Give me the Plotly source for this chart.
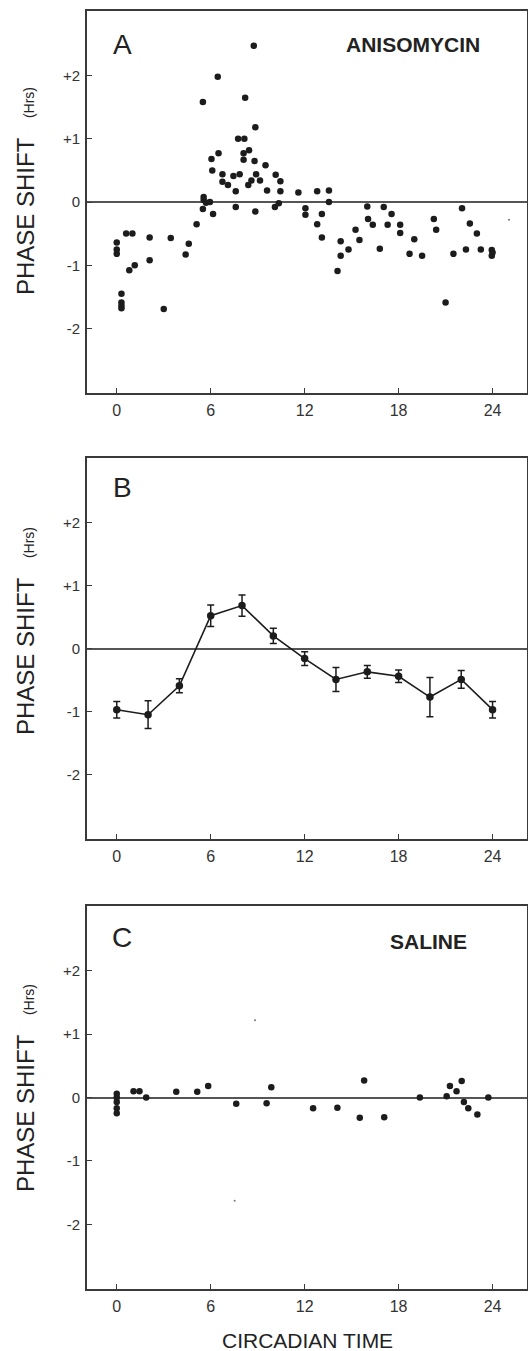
import plotly.graph_objects as go

# ---------------- data ----------------
# Panel A: anisomycin, individual phase shifts
A_time = [0.0, 0.0, 0.0, 0.3, 0.3, 0.3, 0.3, 0.6, 1.0, 0.8, 1.15, 2.1, 2.1, 3.0, 3.45, 4.4, 4.6, 5.1,
          5.5, 5.55, 5.55, 5.7, 5.5, 5.95, 6.15,
          6.05, 6.1, 6.5, 6.45,
          6.75, 6.75, 7.1, 7.45, 7.85, 7.6, 7.6,
          7.75, 8.15, 8.1, 8.45, 8.1, 8.2,
          8.75, 8.85, 8.8, 9.5,
          8.4, 8.6, 8.9, 9.15,
          8.85,
          9.6, 10.15, 10.45, 10.45,
          10.1, 10.35,
          11.6,
          12.05, 12.05,
          12.8, 12.8, 13.1, 13.1,
          13.55, 13.55,
          14.1, 14.3, 14.3, 14.8,
          15.25, 15.5,
          16.0, 16.05, 16.35, 16.8,
          17.05, 17.3, 17.55,
          18.1, 18.1, 18.7, 19.0, 19.5,
          20.25, 20.4, 21.0, 21.5,
          22.05, 22.3, 22.55, 23.0, 23.25,
          23.95, 24.0, 23.95]
A_shift = [-0.64, -0.75, -0.82, -1.45, -1.59, -1.64, -1.68, -0.5, -0.5, -1.08, -1.0, -0.56, -0.92, -1.69, -0.57, -0.83, -0.66, -0.35,
           1.58, 0.08, 0.03, -0.01, -0.11, 0.0, -0.19,
           0.68, 0.5, 0.77, 1.98,
           0.44, 0.32, 0.27, 0.41, 0.44, 0.17, -0.08,
           1.0, 1.0, 0.77, 0.82, 0.67, 1.65,
           2.47, 1.18, 0.65, 0.58,
           0.27, 0.34, 0.44, 0.34,
           -0.15,
           0.18, 0.43, 0.33, 0.17,
           -0.08, -0.02,
           0.15,
           -0.1, -0.2,
           0.17, -0.35, -0.19, -0.56,
           0.18, 0.0,
           -1.09, -0.62, -0.85, -0.75,
           -0.44, -0.6,
           -0.07, -0.27, -0.36, -0.74,
           -0.08, -0.36, -0.19,
           -0.36, -0.49, -0.82, -0.59, -0.85,
           -0.27, -0.44, -1.59, -0.82,
           -0.1, -0.75, -0.34, -0.5, -0.75,
           -0.76, -0.8, -0.85]
A_speck_time = [25.05]
A_speck_shift = [-0.28]

# Panel B: mean +/- SEM
B_time = [0, 2, 4, 6, 8, 10, 12, 14, 16, 18, 20, 22, 24]
B_mean = [-0.97, -1.05, -0.59, 0.52, 0.68, 0.2, -0.16, -0.49, -0.37, -0.44, -0.77, -0.49, -0.97]
B_sem = [0.13, 0.22, 0.11, 0.17, 0.17, 0.12, 0.11, 0.19, 0.1, 0.1, 0.31, 0.14, 0.13]

# Panel C: saline
C_time = [0, 0, 0, 0, 0, 1.07, 1.45, 1.88, 3.8, 5.14, 5.84, 7.63, 9.57, 9.87, 12.54, 14.09,
          15.52, 15.8, 17.08, 19.36, 21.07, 21.28, 21.7, 22.03, 22.17, 22.45, 23.03, 23.73]
C_shift = [0.06, 0.0, -0.07, -0.17, -0.25, 0.1, 0.1, 0.0, 0.09, 0.09, 0.18, -0.1, -0.09, 0.16, -0.17, -0.16,
           -0.32, 0.27, -0.31, 0.0, 0.02, 0.18, 0.1, 0.26, -0.07, -0.17, -0.27, 0.0]
C_speck_time = [8.83, 7.53]
C_speck_shift = [1.22, -1.63]

x_ticks = [0, 6, 12, 18, 24]
x_ticktext = ["0", "6", "12", "18", "24"]
y_ticks = [2, 1, 0, -1, -2]
y_ticktext = ["+2", "+1", "0", "-1", "-2"]

# ---------------- figure ----------------
W, H = 528, 1351
INK = "#1c1c1c"
AX = "#3a3a3a"
FONT = "Liberation Sans, Arial, sans-serif"

fig = go.Figure()

dot = dict(color=INK, size=6.5, line=dict(width=0))
fig.add_trace(go.Scatter(x=A_time, y=A_shift, mode="markers", marker=dot, xaxis="x", yaxis="y", showlegend=False))
fig.add_trace(go.Scatter(x=A_speck_time, y=A_speck_shift, mode="markers",
                         marker=dict(color="#777", size=2), xaxis="x", yaxis="y", showlegend=False))

fig.add_trace(go.Scatter(x=B_time, y=B_mean, mode="lines+markers",
                         line=dict(color=INK, width=1.6),
                         marker=dict(color=INK, size=7.5),
                         error_y=dict(type="data", array=B_sem, visible=True, color=INK, thickness=1.5, width=3.5),
                         xaxis="x2", yaxis="y2", showlegend=False))

fig.add_trace(go.Scatter(x=C_time, y=C_shift, mode="markers", marker=dot, xaxis="x3", yaxis="y3", showlegend=False))
fig.add_trace(go.Scatter(x=C_speck_time, y=C_speck_shift, mode="markers",
                         marker=dict(color="#777", size=2), xaxis="x3", yaxis="y3", showlegend=False))

# panel pixel boxes (left, right, top, bottom)
xl, xr = 87, 527
panels = [(11, 393), (458, 839), (906, 1289)]


def ydom(top, bot):
    return [1 - bot / H, 1 - top / H]


def xaxis(anchor):
    return dict(domain=[xl / W, xr / W], range=[-1.9, 26.2], anchor=anchor,
                tickmode="array", tickvals=x_ticks, ticktext=x_ticktext,
                ticks="inside", ticklen=5, tickwidth=1.3, tickcolor=AX,
                showline=True, mirror=True, linecolor=AX, linewidth=1.6,
                showgrid=False, zeroline=False, ticklabelstandoff=2,
                tickfont=dict(family=FONT, size=16, color="#333"))


def yaxis(anchor, dom):
    return dict(domain=dom, range=[-3.02, 3.02], anchor=anchor,
                tickmode="array", tickvals=y_ticks, ticktext=y_ticktext,
                ticks="inside", ticklen=5, tickwidth=1.3, tickcolor=AX,
                showline=True, mirror=True, linecolor=AX, linewidth=1.6,
                showgrid=False, zeroline=True, zerolinecolor="#555", zerolinewidth=1.6,
                ticklabelstandoff=2,
                tickfont=dict(family=FONT, size=15, color="#333"))


fig.update_layout(
    width=W, height=H,
    margin=dict(l=0, r=0, t=0, b=0),
    paper_bgcolor="white", plot_bgcolor="white",
    xaxis=xaxis("y"), yaxis=yaxis("x", ydom(*panels[0])),
    xaxis2=xaxis("y2"), yaxis2=yaxis("x2", ydom(*panels[1])),
    xaxis3=xaxis("y3"), yaxis3=yaxis("x3", ydom(*panels[2])),
)

ann = []
# panel letters
for letter, ypx in [("A", 44), ("B", 487), ("C", 937)]:
    ann.append(dict(text=letter, x=122 / W, y=1 - ypx / H, xref="paper", yref="paper",
                    showarrow=False, xanchor="center", yanchor="middle",
                    font=dict(family=FONT, size=28, color="#222")))
# treatment labels
ann.append(dict(text="<b>ANISOMYCIN</b>", x=413 / W, y=1 - 44 / H, xref="paper", yref="paper",
                showarrow=False, xanchor="center", yanchor="middle",
                font=dict(family=FONT, size=21, color="#222")))
ann.append(dict(text="<b>SALINE</b>", x=428 / W, y=1 - 941 / H, xref="paper", yref="paper",
                showarrow=False, xanchor="center", yanchor="middle",
                font=dict(family=FONT, size=21, color="#222")))
# y titles
for ypx in [191, 631, 1088]:
    ann.append(dict(text="PHASE SHIFT   <span style='font-size:14px'>(Hrs)</span>",
                    x=25 / W, y=1 - ypx / H, xref="paper", yref="paper", textangle=-90,
                    showarrow=False, xanchor="center", yanchor="middle",
                    font=dict(family=FONT, size=24, color="#222")))
# x title
ann.append(dict(text="CIRCADIAN TIME", x=307 / W, y=1 - 1340 / H, xref="paper", yref="paper",
                showarrow=False, xanchor="center", yanchor="middle",
                font=dict(family=FONT, size=21, color="#222")))
fig.update_layout(annotations=ann)

fig.write_html("out.html", config={"displayModeBar": False},
               post_script="document.body.style.margin='0px';document.body.style.padding='0px';")
